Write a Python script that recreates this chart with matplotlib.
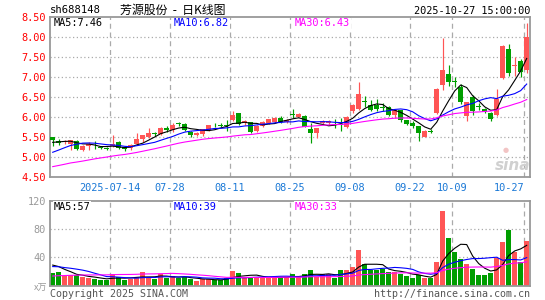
import matplotlib.pyplot as plt
import numpy as np

# daily k-line, 2025-06-30 .. 2025-10-27 (80 sessions)
opens = [5.50, 5.40, 5.37, 5.33, 5.41, 5.18, 5.27, 5.31, 5.26, 5.21,
         5.27, 5.37, 5.24, 5.23, 5.32, 5.45, 5.50, 5.59, 5.58, 5.73,
         5.67, 5.83, 5.82, 5.63, 5.55, 5.57, 5.68, 5.80, 5.81, 5.81,
         5.93, 6.09, 5.85, 5.87, 5.66, 5.77, 5.84, 5.88, 5.98, 5.87,
         6.06, 6.01, 6.02, 5.69, 5.60, 5.86, 5.84, 5.85, 5.81, 5.74,
         6.16, 6.20, 6.39, 6.31, 6.30, 6.24, 6.26, 6.05, 6.17, 5.92,
         5.86, 5.77, 5.51, 5.64, 6.09, 6.80, 7.07, 6.89, 6.74, 6.03,
         6.51, 6.27, 6.20, 6.11, 6.05, 6.97, 7.70, 7.27, 7.40, 7.18]
closes = [5.42, 5.34, 5.41, 5.42, 5.19, 5.28, 5.32, 5.29, 5.22, 5.20,
          5.33, 5.23, 5.19, 5.31, 5.45, 5.55, 5.61, 5.58, 5.73, 5.68,
          5.81, 5.82, 5.68, 5.55, 5.59, 5.69, 5.79, 5.79, 5.77, 5.78,
          6.06, 5.83, 5.91, 5.63, 5.77, 5.87, 5.94, 5.97, 5.88, 5.93,
          6.05, 6.07, 5.76, 5.61, 5.72, 5.91, 5.90, 5.84, 5.80, 6.00,
          6.30, 6.57, 6.38, 6.18, 6.20, 6.23, 6.06, 6.17, 5.92, 5.82,
          5.77, 5.59, 5.66, 5.63, 6.69, 7.18, 6.88, 6.88, 6.37, 6.37,
          6.15, 6.26, 6.12, 5.94, 6.45, 7.78, 7.11, 7.29, 7.13, 8.01]
highs = [5.51, 5.44, 5.43, 5.43, 5.43, 5.31, 5.37, 5.40, 5.28, 5.24,
         5.55, 5.39, 5.27, 5.33, 5.60, 5.56, 5.72, 5.62, 5.76, 5.78,
         5.84, 5.87, 5.84, 5.64, 5.62, 5.71, 5.81, 5.84, 5.84, 5.92,
         6.16, 6.10, 5.93, 5.88, 5.79, 5.89, 5.96, 6.00, 6.02, 5.95,
         6.20, 6.09, 6.04, 5.84, 5.73, 5.93, 5.92, 5.96, 5.98, 6.02,
         6.33, 6.87, 6.52, 6.42, 6.44, 6.34, 6.28, 6.18, 6.18, 5.93,
         5.89, 5.78, 5.67, 5.70, 6.72, 7.97, 7.30, 7.00, 6.83, 6.38,
         6.56, 6.36, 6.22, 6.12, 6.70, 7.80, 7.83, 7.51, 7.45, 8.34]
lows = [5.27, 5.29, 5.33, 5.17, 5.17, 5.16, 5.18, 5.20, 5.19, 5.17,
        5.24, 5.20, 5.15, 5.17, 5.30, 5.38, 5.47, 5.53, 5.54, 5.63,
        5.63, 5.78, 5.66, 5.50, 5.52, 5.52, 5.66, 5.74, 5.74, 5.65,
        5.90, 5.81, 5.80, 5.60, 5.63, 5.74, 5.82, 5.86, 5.84, 5.85,
        5.97, 5.99, 5.74, 5.36, 5.48, 5.83, 5.80, 5.72, 5.64, 5.72,
        6.10, 6.18, 6.26, 6.15, 6.15, 6.14, 6.02, 5.98, 5.87, 5.80,
        5.73, 5.41, 5.50, 5.59, 6.07, 6.68, 6.78, 6.74, 6.32, 5.91,
        6.06, 6.18, 6.09, 5.90, 6.02, 6.94, 7.03, 7.02, 7.00, 7.11]
volumes = [18, 19.5, 14, 14.5, 14.5, 12, 11, 9, 8, 8.5,
           16, 13, 8, 10, 12, 19, 13, 9, 16, 11,
           14, 11, 12, 9, 7, 9, 9.5, 8, 8, 11,
           21, 18, 12, 12, 12, 12, 12, 12, 12, 12,
           17, 12, 17, 22, 13, 16, 16, 11, 22, 22,
           26, 51, 31, 22, 22, 23, 20, 20, 17, 13.7,
           11.3, 15, 10.3, 10.3, 33, 106, 68, 48, 38.5, 31,
           24.2, 15.1, 15.1, 18.5, 39, 62.5, 78.3, 48, 33, 64]

# sessions before the window (only feed the moving averages)
hist_close = [4.46, 4.49, 4.44, 4.52, 4.55, 4.50, 4.47, 4.51, 4.54, 4.56,
              4.59, 4.64, 4.61, 4.66, 4.63, 4.68, 4.65, 4.70, 4.67, 4.72,
              4.78, 4.82, 4.86, 4.90, 4.99, 5.28, 5.35, 5.40, 5.38]
hist_vol = [6, 7, 5, 8, 6, 7, 9, 6, 7, 8, 6, 7, 8, 6, 7, 9, 7, 8, 6, 7,
            22, 26, 24, 27, 26, 30, 34, 31, 33]

tick_pos = [10, 20, 30, 40, 50, 60, 67, 79]
tick_text = ['2025-07-14', '07-28', '08-11', '08-25', '09-08', '09-22', '10-09', '10-27']

RED = '#ff5555'
GREEN = '#009e00'
GRID = '#aaaaaa'
MONO = 'DejaVu Sans Mono'
CJK = ['Noto Sans CJK SC', 'DejaVu Sans']

W, H = 545, 300


def px(x, y):
    return x / W, 1 - y / H


def ma(hist, data, n):
    full = np.concatenate([hist, data])
    return np.convolve(full, np.ones(n) / n, mode='valid')[-len(data):]


o = np.array(opens)
c = np.array(closes)
n = len(c)
x = np.arange(n) + 0.45
up = c > o
colors = np.where(up, RED, GREEN)

fig = plt.figure(figsize=(W / 100, H / 100), dpi=100)
ax1 = fig.add_axes([50 / W, 1 - 177 / H, 480 / W, 160 / H])
ax2 = fig.add_axes([50 / W, 1 - 285.7 / H, 480 / W, 84.7 / H])

for ax in (ax1, ax2):
    ax.set_xlim(0, n)
    for s in ax.spines.values():
        s.set_color('#999999')
        s.set_linewidth(1.3)
    for p in tick_pos:
        ax.axvline(p, color=GRID, lw=0.9, ls=(0, (4, 3)), zorder=0)

# price panel
ax1.set_ylim(4.5, 8.5)
for y in [5.0, 5.5, 6.0, 6.5, 7.0, 7.5, 8.0]:
    ax1.axhline(y, color=GRID, lw=0.9, ls=(0, (1, 2)), zorder=0)

ax1.vlines(x, lows, highs, colors=colors, lw=0.85, zorder=2)
body = np.maximum(np.abs(c - o), 0.022)
ax1.bar(x, body, width=0.82, bottom=np.minimum(o, c), color=colors, lw=0, zorder=3)

ax1.plot(x, ma(hist_close, c, 5), color='black', lw=0.8, zorder=4)
ax1.plot(x, ma(hist_close, c, 10), color='#0000ff', lw=0.8, zorder=4)
ax1.plot(x, ma(hist_close, c, 30), color='#ff00ff', lw=0.8, zorder=4)

yt = [4.5, 5.0, 5.5, 6.0, 6.5, 7.0, 7.5, 8.0, 8.5]
ax1.set_yticks(yt)
ax1.set_yticklabels([f'{v:.2f}' for v in yt], color='#ff0000', family=MONO, fontsize=7.4)
ax1.set_xticks(tick_pos)
ax1.set_xticklabels(tick_text, color='#1a78d6', family=MONO, fontsize=7.4)
ax1.tick_params(length=0, pad=3)
ax1.tick_params(axis='x', pad=4)
ax1.get_xticklabels()[-1].set_ha('right')

# volume panel
v = np.array(volumes, dtype=float)
ax2.set_ylim(0, 120)
for y in [40, 80]:
    ax2.axhline(y, color=GRID, lw=0.9, ls=(0, (1, 2)), zorder=0)
ax2.bar(x, v, width=0.82, color=colors, lw=0, zorder=2)
ax2.plot(x, ma(hist_vol, v, 5), color='black', lw=0.8, zorder=4)
ax2.plot(x, ma(hist_vol, v, 10), color='#0000ff', lw=0.8, zorder=4)
ax2.plot(x, ma(hist_vol, v, 30), color='#ff00ff', lw=0.8, zorder=4)
ax2.set_yticks([40, 80, 120])
ax2.set_yticklabels(['40', '80', '120'], color='#999999', family=MONO, fontsize=7.4)
ax2.set_xticks([])
ax2.tick_params(length=0, pad=3)

# texts
box = dict(facecolor='white', edgecolor='none', pad=0.5)
fig.text(*px(50, 10), 'sh688148', family=MONO, fontsize=7.6, va='center')
fig.text(*px(120, 10), '芳源股份  -  日K线图', family=CJK, fontsize=8.6, va='center')
fig.text(*px(530, 11), '2025-10-27 15:00:00', family=MONO, fontsize=7.4,
         va='center', ha='right')

fig.text(*px(54, 23.5), 'MA5:7.46', family=MONO, fontsize=7.4, va='center', bbox=box)
fig.text(*px(174, 23.5), 'MA10:6.82', family=MONO, fontsize=7.4, va='center',
         color='#0000ff', bbox=box)
fig.text(*px(295, 23.5), 'MA30:6.43', family=MONO, fontsize=7.4, va='center',
         color='#ff00ff', bbox=box)

fig.text(*px(54, 206.5), 'MA5:57', family=MONO, fontsize=7.4, va='center', bbox=box)
fig.text(*px(174, 206.5), 'MA10:39', family=MONO, fontsize=7.4, va='center',
         color='#0000ff', bbox=box)
fig.text(*px(295, 206.5), 'MA30:33', family=MONO, fontsize=7.4, va='center',
         color='#ff00ff', bbox=box)

fig.text(*px(47, 288), 'x万', family=CJK, fontsize=6.5, va='center', ha='right',
         color='#999999')
fig.text(*px(50, 294), 'Copyright 2025 SINA.COM', family=MONO, fontsize=7.2,
         va='center', color='#555555')
fig.text(*px(530, 294), 'http://finance.sina.com.cn', family=MONO, fontsize=7.2,
         va='center', ha='right', color='#555555')

# watermark
fig.text(*px(513, 166), 'sina', fontsize=11, style='italic', weight='bold',
         color='#d0d0d0', ha='center', va='center', zorder=1)
fig.text(*px(506, 150), '●', fontsize=5, color='#f2c4c4', ha='center', va='center')

fig.savefig('out.png', dpi=100)
